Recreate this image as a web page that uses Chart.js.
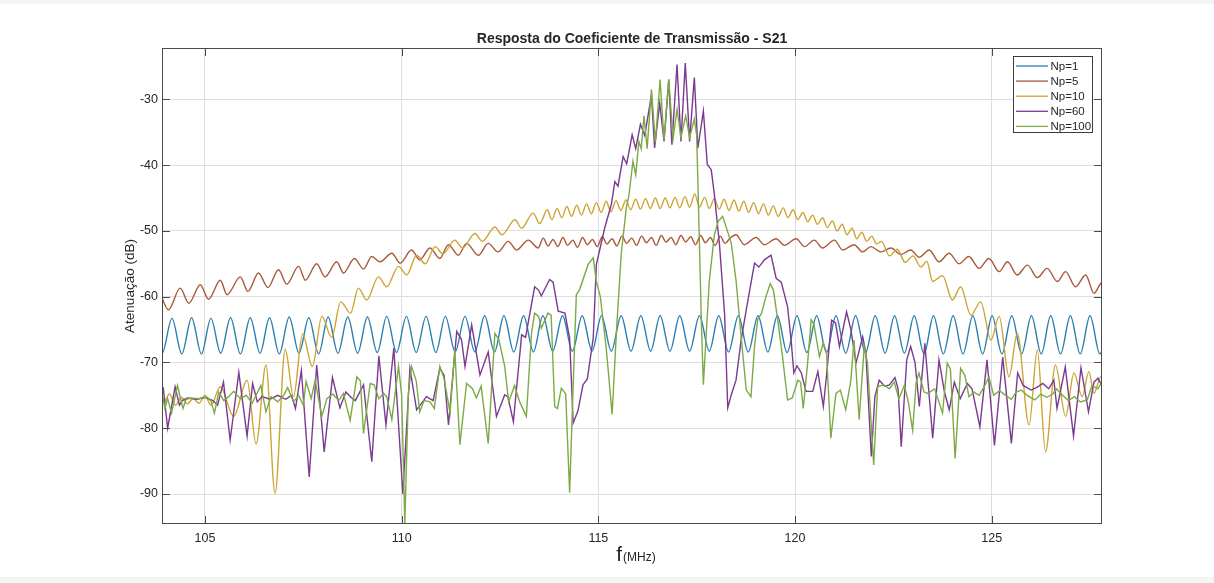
<!DOCTYPE html>
<html><head><meta charset="utf-8">
<script src="https://cdn.jsdelivr.net/npm/chart.js@4.4.1/dist/chart.umd.min.js"></script>
<style>
html,body{margin:0;padding:0;background:#fff;}
#wrap{position:relative;width:1214px;height:583px;overflow:hidden;background:#fff;}
.band{position:absolute;left:0;width:1214px;background:#f4f4f4;}
canvas{position:absolute;left:0;top:0;}
</style></head><body>
<div id="wrap">
<canvas id="c" width="1214" height="583"></canvas>
<div class="band" style="top:0;height:4px"></div>
<div class="band" style="top:577px;height:6px"></div>
</div>
<script>
const TITLE = 'Resposta do Coeficiente de Transmissão - S21';
const X_LABEL_MAIN = 'f';
const X_LABEL_UNIT = '(MHz)';
const Y_LABEL = 'Atenuação (dB)';
const seriesNames = ['Np=1', 'Np=5', 'Np=10', 'Np=60', 'Np=100'];
const xTicks = [105, 110, 115, 120, 125];
const yTicks = [-90, -80, -70, -60, -50, -40, -30];

// Np=1 : frequency (MHz) of each ripple crest/trough, and its level (dB)
const fNp1 = [103.66,103.91,104.16,104.41,104.66,104.91,105.15,105.40,105.65,105.90,106.15,106.40,106.64,106.89,107.14,107.39,107.64,107.89,108.13,108.38,108.63,108.88,109.13,109.38,109.62,109.87,110.12,110.37,110.62,110.87,111.11,111.36,111.61,111.86,112.11,112.36,112.60,112.85,113.10,113.35,113.59,113.84,114.09,114.34,114.59,114.84,115.08,115.33,115.58,115.83,116.08,116.33,116.57,116.82,117.07,117.32,117.57,117.82,118.06,118.31,118.56,118.81,119.06,119.31,119.55,119.80,120.05,120.30,120.55,120.80,121.04,121.29,121.54,121.79,122.04,122.29,122.53,122.78,123.03,123.28,123.52,123.77,124.02,124.27,124.52,124.77,125.01,125.26,125.51,125.76,126.01,126.26,126.50,126.75,127.00,127.25,127.50,127.75,127.99];
const dbNp1 = [-63.1,-68.6,-63.3,-68.7,-63.2,-68.7,-63.3,-68.6,-63.2,-68.7,-63.2,-68.6,-63.2,-68.7,-63.1,-68.6,-63.2,-68.7,-63.1,-68.6,-63.1,-68.6,-63.1,-68.5,-63.0,-68.5,-63.0,-68.5,-63.0,-68.5,-63.0,-68.4,-63.0,-68.4,-62.9,-68.4,-62.9,-68.4,-62.9,-68.4,-62.9,-68.3,-62.9,-68.3,-62.9,-68.3,-62.9,-68.3,-62.9,-68.3,-62.9,-68.3,-62.9,-68.3,-62.9,-68.3,-62.9,-68.3,-62.9,-68.4,-62.9,-68.4,-62.9,-68.4,-62.9,-68.5,-62.9,-68.5,-62.9,-68.5,-62.9,-68.6,-62.9,-68.6,-62.9,-68.6,-62.9,-68.6,-62.9,-68.7,-62.9,-68.7,-62.9,-68.7,-62.9,-68.7,-62.9,-68.7,-62.9,-68.7,-62.9,-68.7,-62.9,-68.7,-62.9,-68.7,-62.9,-68.7,-62.9];

// Np=5 : [MHz, dB]
const np5 = [[103.85,-59.3],[104.07,-62.0],[104.37,-58.7],[104.59,-61.0],[104.88,-58.2],[105.09,-60.4],[105.39,-57.5],[105.56,-59.7],[105.90,-57.0],[106.09,-59.2],[106.36,-56.4],[106.60,-58.6],[106.87,-55.9],[107.08,-58.1],[107.38,-55.4],[107.55,-57.5],[107.84,-55.0],[108.05,-57.0],[108.35,-54.7],[108.52,-56.4],[108.80,-54.2],[109.03,-55.8],[109.24,-53.9],[109.45,-54.7],[109.75,-53.4],[109.96,-54.9],[110.25,-52.9],[110.46,-54.4],[110.72,-52.6],[110.97,-54.2],[111.19,-52.1],[111.44,-53.7],[111.65,-51.9],[111.95,-53.7],[112.20,-51.9],[112.45,-53.2],[112.71,-51.6],[112.92,-52.9],[113.22,-51.4],[113.47,-52.6],
[113.60,-51.1],[113.72,-52.3],[113.85,-51.3],[113.97,-52.4],[114.10,-51.0],[114.22,-52.2],[114.35,-51.4],[114.47,-52.5],[114.60,-51.0],[114.72,-52.1],[114.85,-51.3],[114.97,-52.4],[115.10,-50.9],[115.22,-52.0],[115.35,-51.2],[115.47,-52.3],[115.60,-50.8],[115.72,-51.9],[115.85,-51.1],[115.97,-52.2],[116.10,-50.8],[116.22,-51.8],[116.35,-51.0],[116.47,-52.2],[116.60,-50.7],[116.72,-51.7],[116.85,-51.0],[116.97,-52.1],[117.10,-50.7],[117.22,-51.7],[117.35,-50.9],[117.47,-52.1],[117.60,-50.7],[117.72,-51.8],[117.85,-51.0],[117.97,-52.2],[118.10,-50.8],[118.22,-51.9],[118.35,-51.1],
[118.50,-50.6],[118.71,-52.1],[119.01,-51.0],[119.22,-52.1],[119.52,-51.2],[119.73,-52.2],[120.03,-51.2],[120.24,-52.4],[120.49,-51.4],[120.70,-52.6],[121.00,-51.4],[121.21,-52.9],[121.50,-52.1],[121.72,-53.2],[121.93,-52.4],[122.18,-53.2],[122.44,-52.6],[122.69,-53.6],[122.94,-52.9],[123.16,-54.0],[123.41,-52.9],[123.66,-54.7],[123.92,-53.4],[124.17,-55.0],[124.42,-53.9],[124.68,-55.7],[124.93,-54.2],[125.19,-56.2],[125.40,-54.7],[125.65,-56.7],[125.91,-55.2],[126.16,-57.1],[126.41,-55.7],[126.67,-57.7],[126.88,-56.2],[127.13,-58.5],[127.39,-56.7],[127.60,-59.5],[127.77,-58.0],[127.90,-57.6]];

// Np=10 : [MHz, dB]
const np10 = [[103.85,-75.0],[103.95,-76.0],[104.10,-74.8],[104.25,-76.5],[104.40,-75.3],[104.55,-76.3],[104.70,-75.5],[104.85,-76.2],[105.00,-75.0],[105.15,-76.5],[105.39,-73.7],[105.73,-78.2],[106.07,-72.7],[106.30,-82.4],[106.55,-70.4],[106.78,-89.9],[107.04,-68.0],[107.25,-75.2],[107.48,-65.7],[107.73,-70.6],[107.97,-63.0],[108.22,-66.2],[108.45,-60.8],[108.70,-62.5],[108.90,-58.7],[109.11,-60.5],[109.41,-57.0],[109.62,-58.5],[109.92,-55.4],[110.13,-56.7],[110.38,-53.7],[110.60,-55.0],[110.85,-52.4],[111.05,-53.5],[111.35,-51.4],[111.55,-52.6],[111.86,-50.4],[112.05,-51.6],[112.37,-49.4],[112.55,-50.6],[112.88,-48.3],[113.05,-49.6],[113.34,-47.3],[113.51,-48.9],
[113.70,-46.8],[113.82,-48.3],[113.95,-46.6],[114.07,-48.0],[114.20,-46.3],[114.32,-47.8],[114.45,-46.1],[114.57,-47.6],[114.70,-45.9],[114.82,-47.4],[114.95,-45.7],[115.07,-47.2],[115.20,-45.5],[115.32,-47.1],[115.45,-45.4],[115.57,-46.9],[115.70,-45.3],[115.82,-46.8],[115.95,-45.2],[116.07,-46.7],[116.20,-45.1],[116.32,-46.6],[116.45,-45.0],[116.57,-46.6],[116.70,-45.0],[116.82,-46.5],[116.95,-44.9],[117.07,-46.5],[117.20,-44.8],[117.32,-46.4],[117.45,-44.4],[117.57,-46.4],[117.70,-44.9],[117.82,-46.6],[117.95,-45.1],[118.07,-46.7],[118.20,-45.2],[118.32,-46.9],[118.45,-45.3],[118.57,-47.0],[118.70,-45.5],[118.82,-47.2],[118.95,-45.7],[119.07,-47.4],[119.20,-45.9],[119.32,-47.6],[119.45,-46.2],[119.57,-47.8],[119.70,-46.5],[119.82,-48.0],[119.95,-46.8],[120.07,-48.3],[120.20,-47.2],[120.32,-48.6],[120.45,-47.6],[120.57,-49.0],[120.70,-48.0],[120.82,-49.5],[120.95,-48.5],[121.07,-50.0],[121.20,-49.0],[121.32,-50.6],[121.45,-49.6],[121.57,-51.2],[121.70,-50.2],[121.82,-51.6],[121.95,-50.8],[122.07,-52.0],[122.20,-51.6],[122.40,-53.8],[122.60,-52.8],[122.80,-54.8],[123.00,-53.8],[123.20,-55.5],[123.35,-54.6],[123.50,-57.7],[123.75,-56.8],[124.00,-60.5],[124.21,-58.5],[124.47,-62.8],[124.72,-60.8],[124.98,-66.6],[125.19,-63.0],[125.44,-72.2],[125.65,-65.6],[125.95,-79.5],[126.16,-68.1],[126.37,-83.6],[126.62,-70.4],[126.88,-78.2],[127.09,-71.6],[127.30,-75.2],[127.47,-71.4],[127.60,-74.7],[127.77,-72.2],[127.90,-73.0]];

// Np=60 : [MHz, dB]
const np60 = [[103.85,-74.0],[103.94,-73.9],[104.05,-80.0],[104.24,-73.7],[104.35,-76.5],[104.42,-75.8],[104.55,-75.4],[104.80,-75.6],[105.00,-75.3],[105.20,-75.8],[105.32,-76.5],[105.47,-73.0],[105.64,-81.8],[105.86,-71.5],[106.07,-81.2],[106.21,-73.2],[106.33,-76.0],[106.45,-75.2],[106.65,-75.6],[106.85,-75.0],[107.05,-75.6],[107.20,-75.0],[107.30,-77.0],[107.45,-71.2],[107.65,-87.4],[107.84,-70.4],[108.03,-83.6],[108.24,-72.3],[108.43,-76.9],[108.58,-74.5],[108.73,-75.4],[108.82,-75.8],[109.03,-73.4],[109.24,-85.1],[109.42,-69.0],[109.60,-79.5],[109.80,-67.8],[110.03,-90.0],[110.21,-70.9],[110.38,-77.2],[110.47,-76.5],[110.63,-75.2],[110.80,-75.8],[110.97,-70.9],[111.08,-72.0],[111.19,-79.5],[111.40,-65.3],[111.52,-66.5],[111.61,-70.6],[111.78,-64.3],[111.99,-71.9],[112.20,-68.4],[112.41,-78.2],[112.62,-74.9],[112.70,-75.2],[112.84,-79.0],[113.05,-65.8],[113.15,-66.2],[113.38,-58.5],[113.48,-59.0],[113.55,-59.9],[113.76,-57.4],[113.85,-57.8],[113.98,-62.2],[114.15,-62.5],[114.27,-66.3],[114.36,-79.2],[114.48,-77.4],[114.61,-73.4],[114.72,-72.5],[114.87,-66.3],[114.95,-55.1],[115.16,-49.6],[115.33,-46.0],[115.42,-42.5],[115.50,-43.2],[115.63,-38.7],[115.72,-39.8],[115.86,-35.4],[115.95,-37.5],[116.07,-33.8],[116.18,-35.5],[116.35,-29.3],[116.43,-37.4],[116.56,-30.6],[116.67,-36.4],[116.79,-27.0],[116.87,-36.9],[117.00,-24.7],[117.10,-36.4],[117.21,-24.5],[117.32,-36.4],[117.44,-26.7],[117.53,-37.4],[117.67,-31.8],[117.77,-39.9],[117.87,-40.7],[117.95,-44.5],[118.08,-52.1],[118.21,-62.7],[118.29,-76.9],[118.38,-74.9],[118.50,-72.7],[118.63,-66.6],[118.76,-62.0],[118.97,-54.9],[119.08,-55.5],[119.22,-54.4],[119.39,-53.7],[119.52,-57.2],[119.65,-57.8],[119.81,-61.5],[119.90,-66.6],[119.97,-71.6],[120.05,-70.5],[120.16,-71.6],[120.28,-74.4],[120.45,-74.4],[120.58,-71.4],[120.72,-76.7],[120.80,-72.0],[120.93,-63.6],[121.03,-64.0],[121.13,-67.6],[121.31,-62.3],[121.42,-65.0],[121.55,-70.1],[121.72,-66.1],[121.80,-68.5],[121.94,-84.3],[122.03,-75.2],[122.14,-72.7],[122.28,-73.6],[122.40,-73.4],[122.54,-72.3],[122.62,-74.0],[122.70,-82.8],[122.84,-69.6],[122.94,-67.6],[123.05,-70.0],[123.16,-76.7],[123.30,-67.1],[123.50,-81.5],[123.66,-69.6],[123.80,-74.5],[123.92,-77.2],[124.05,-73.0],[124.20,-75.5],[124.38,-73.2],[124.50,-74.0],[124.70,-79.8],[124.88,-69.6],[125.07,-82.6],[125.28,-69.2],[125.50,-82.3],[125.66,-71.6],[125.80,-73.5],[126.00,-74.2],[126.15,-73.8],[126.30,-73.2],[126.45,-74.0],[126.58,-72.7],[126.66,-77.0],[126.87,-70.7],[127.08,-81.2],[127.27,-70.8],[127.46,-77.5],[127.60,-73.0],[127.70,-72.4],[127.85,-74.0]];

// Np=100 : [MHz, dB]
const np100 = [[103.85,-75.5],[103.91,-74.7],[103.98,-77.0],[104.05,-75.5],[104.15,-77.7],[104.30,-73.5],[104.44,-77.0],[104.52,-75.6],[104.65,-75.4],[104.85,-75.5],[105.05,-75.3],[105.15,-75.8],[105.24,-77.7],[105.35,-74.5],[105.48,-75.8],[105.60,-75.2],[105.73,-74.4],[105.90,-75.5],[106.05,-75.0],[106.20,-76.2],[106.42,-73.5],[106.55,-77.5],[106.68,-75.2],[106.85,-76.0],[107.00,-75.0],[107.10,-73.8],[107.25,-76.0],[107.38,-75.0],[107.50,-76.5],[107.57,-72.9],[107.70,-75.5],[107.80,-72.7],[107.97,-78.2],[108.10,-75.5],[108.25,-74.8],[108.40,-75.8],[108.52,-74.7],[108.69,-78.8],[108.86,-72.2],[108.95,-72.8],[109.03,-80.8],[109.20,-73.2],[109.30,-73.4],[109.42,-75.5],[109.54,-74.7],[109.62,-75.2],[109.75,-78.7],[109.92,-70.6],[110.00,-75.0],[110.08,-94.5],[110.17,-74.7],[110.25,-70.6],[110.37,-72.8],[110.46,-77.5],[110.57,-75.8],[110.72,-76.0],[110.83,-77.0],[110.97,-70.6],[111.08,-72.5],[111.23,-77.7],[111.35,-68.1],[111.48,-82.5],[111.65,-73.2],[111.80,-74.0],[111.90,-75.4],[112.02,-73.6],[112.20,-82.3],[112.37,-65.6],[112.47,-66.5],[112.62,-70.6],[112.72,-76.0],[112.87,-73.5],[113.00,-76.0],[113.17,-78.2],[113.30,-65.6],[113.38,-62.5],[113.48,-63.0],[113.55,-64.8],[113.72,-62.5],[113.80,-62.8],[113.89,-76.7],[113.96,-77.0],[114.06,-73.9],[114.17,-74.8],[114.27,-89.8],[114.34,-77.0],[114.44,-59.7],[114.52,-59.0],[114.74,-55.1],[114.87,-54.1],[114.95,-57.7],[115.05,-60.0],[115.20,-67.8],[115.35,-77.9],[115.46,-65.3],[115.58,-53.6],[115.71,-46.5],[115.78,-44.5],[115.88,-39.4],[115.95,-41.5],[116.03,-36.4],[116.09,-37.5],[116.16,-32.5],[116.24,-37.5],[116.35,-28.5],[116.45,-36.5],[116.57,-27.0],[116.67,-36.2],[116.79,-27.0],[116.90,-36.0],[117.00,-31.5],[117.10,-35.8],[117.22,-32.5],[117.32,-35.8],[117.44,-33.0],[117.50,-35.5],[117.57,-52.0],[117.62,-64.0],[117.67,-73.4],[117.73,-67.0],[117.82,-57.7],[117.95,-50.6],[118.05,-48.5],[118.16,-47.8],[118.28,-50.0],[118.38,-51.9],[118.50,-57.5],[118.63,-66.1],[118.76,-74.2],[118.88,-75.2],[118.97,-67.6],[119.05,-63.5],[119.15,-62.5],[119.26,-60.0],[119.37,-58.0],[119.45,-59.0],[119.56,-63.5],[119.68,-69.0],[119.81,-75.7],[119.93,-75.4],[120.07,-72.7],[120.14,-73.0],[120.21,-77.0],[120.32,-70.1],[120.41,-63.5],[120.48,-64.2],[120.62,-69.1],[120.72,-67.0],[120.80,-68.5],[120.91,-81.5],[121.04,-74.7],[121.15,-74.2],[121.29,-77.2],[121.42,-72.7],[121.50,-66.6],[121.56,-72.0],[121.63,-78.7],[121.76,-67.6],[121.84,-70.0],[122.00,-85.6],[122.10,-73.7],[122.25,-73.4],[122.40,-74.0],[122.52,-73.0],[122.64,-75.5],[122.78,-73.5],[122.88,-76.0],[122.99,-80.3],[123.08,-73.0],[123.15,-71.6],[123.28,-74.5],[123.38,-74.7],[123.55,-74.0],[123.75,-77.7],[123.87,-70.1],[123.95,-71.0],[124.07,-84.6],[124.21,-70.9],[124.32,-72.0],[124.42,-75.2],[124.55,-74.5],[124.68,-75.0],[124.80,-73.8],[124.93,-72.2],[125.05,-75.0],[125.20,-74.3],[125.35,-75.0],[125.50,-75.6],[125.62,-74.5],[125.75,-74.2],[125.90,-75.0],[126.10,-75.7],[126.25,-74.8],[126.40,-75.3],[126.55,-74.8],[126.65,-74.0],[126.80,-75.0],[126.95,-75.8],[127.10,-75.2],[127.25,-76.0],[127.43,-75.7],[127.55,-73.5],[127.70,-74.0],[127.85,-72.5]];

const colors = ['#2b7fae', '#a8593a', '#cca534', '#7b3990', '#7caa45'];
const FONT = "'Liberation Sans', Arial, Helvetica, sans-serif";
const INK = '#262626';

const pairsToXY = pts => pts.map(p => ({x: p[0], y: p[1]}));
const seriesData = [
  fNp1.map((f, i) => ({x: f, y: dbNp1[i]})),
  pairsToXY(np5),
  pairsToXY(np10),
  pairsToXY(np60),
  pairsToXY(np100)
];

const decor = {
  id: 'decor',
  afterDatasetsDraw(chart) {
    const {ctx, chartArea: a, scales} = chart;
    const xs = scales.x, ys = scales.y;
    ctx.save();
    ctx.strokeStyle = '#4a4a4a';
    ctx.lineWidth = 1;
    ctx.beginPath();
    xTicks.forEach(v => {
      const p = Math.round(xs.getPixelForValue(v)) + 0.5;
      ctx.moveTo(p, a.bottom); ctx.lineTo(p, a.bottom - 8);
      ctx.moveTo(p, a.top); ctx.lineTo(p, a.top + 8);
    });
    yTicks.forEach(v => {
      const p = Math.round(ys.getPixelForValue(v)) + 0.5;
      ctx.moveTo(a.left, p); ctx.lineTo(a.left + 8, p);
      ctx.moveTo(a.right, p); ctx.lineTo(a.right - 8, p);
    });
    ctx.stroke();
    ctx.strokeRect(a.left + 0.5, a.top + 0.5, a.right - a.left - 1, a.bottom - a.top - 1);

    // legend (MATLAB style, inside the axes, north-east)
    const lx = a.right - 89, ly = a.top + 8, lw = 80, lh = 77;
    ctx.fillStyle = '#ffffff';
    ctx.fillRect(lx, ly, lw, lh);
    ctx.strokeStyle = '#3c3c3c';
    ctx.strokeRect(lx + 0.5, ly + 0.5, lw - 1, lh - 1);
    ctx.font = '11.5px ' + FONT;
    ctx.textBaseline = 'middle';
    ctx.textAlign = 'left';
    chart.data.datasets.forEach((ds, i) => {
      const yy = ly + 10 + i * 15.1;
      ctx.strokeStyle = ds.borderColor;
      ctx.lineWidth = 1.3;
      ctx.beginPath();
      ctx.moveTo(lx + 3, yy); ctx.lineTo(lx + 35, yy);
      ctx.stroke();
      ctx.fillStyle = INK;
      ctx.fillText(ds.label, lx + 37.5, yy + 0.5);
    });

    // title
    ctx.fillStyle = INK;
    ctx.textAlign = 'center';
    ctx.textBaseline = 'alphabetic';
    ctx.font = 'bold 14px ' + FONT;
    ctx.fillText(TITLE, (a.left + a.right) / 2, 43);

    // y label
    ctx.save();
    ctx.translate(130.5, (a.top + a.bottom) / 2);
    ctx.rotate(-Math.PI / 2);
    ctx.font = '13.5px ' + FONT;
    ctx.textAlign = 'center';
    ctx.textBaseline = 'middle';
    ctx.fillText(Y_LABEL, 0, 0);
    ctx.restore();

    // x label: large "f" followed by smaller "(MHz)"
    ctx.textAlign = 'left';
    ctx.textBaseline = 'alphabetic';
    ctx.font = '21px ' + FONT;
    const wf = ctx.measureText(X_LABEL_MAIN).width;
    ctx.font = '12px ' + FONT;
    const wu = ctx.measureText(X_LABEL_UNIT).width;
    const x0 = 636 - (wf + wu + 1) / 2;
    ctx.font = '21px ' + FONT;
    ctx.fillText(X_LABEL_MAIN, x0, 561);
    ctx.font = '12px ' + FONT;
    ctx.fillText(X_LABEL_UNIT, x0 + wf + 1, 561);
    ctx.restore();
  }
};

const datasets = seriesNames.map((name, i) => ({
  label: name,
  data: seriesData[i],
  borderColor: colors[i],
  backgroundColor: colors[i],
  borderWidth: 1.4,
  pointRadius: 0,
  fill: false,
  cubicInterpolationMode: i <= 2 ? 'monotone' : 'default',
  tension: 0,
  order: 5 - i
}));

new Chart(document.getElementById('c'), {
  type: 'line',
  data: {datasets},
  options: {
    responsive: false,
    animation: false,
    events: [],
    layout: {padding: {left: 0, right: 112, top: 48, bottom: 0}},
    plugins: {legend: {display: false}, title: {display: false}, tooltip: {enabled: false}},
    scales: {
      x: {
        type: 'linear',
        min: 103.907,
        max: 127.804,
        afterBuildTicks: s => { s.ticks = xTicks.map(v => ({value: v})); },
        afterFit: s => { s.height = 59; },
        grid: {color: '#dedede', lineWidth: 1, drawTicks: false},
        border: {display: false},
        ticks: {color: INK, font: {family: FONT, size: 12.5}, padding: 7, maxRotation: 0}
      },
      y: {
        type: 'linear',
        min: -94.56,
        max: -22.2,
        afterBuildTicks: s => { s.ticks = yTicks.map(v => ({value: v})); },
        afterFit: s => { s.width = 162; },
        grid: {color: '#dedede', lineWidth: 1, drawTicks: false},
        border: {display: false},
        ticks: {color: INK, font: {family: FONT, size: 12.5}, padding: 4}
      }
    }
  },
  plugins: [decor]
});
</script>
</body></html>
